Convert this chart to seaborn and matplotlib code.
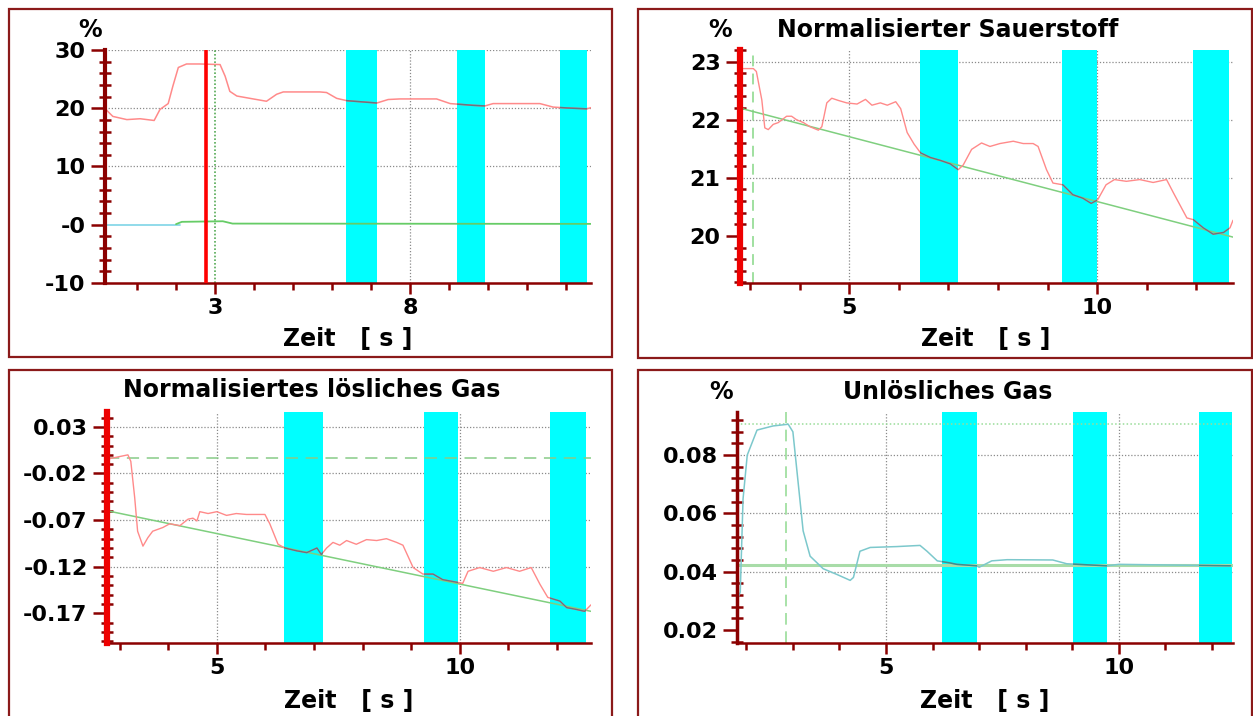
import numpy as np
import pandas as pd
import matplotlib
matplotlib.use("Agg")
import matplotlib.pyplot as plt
from matplotlib.patches import Rectangle
from matplotlib.ticker import FixedLocator, FixedFormatter, MultipleLocator
import seaborn as sns

# ---------------- data ----------------
# Panel 1 (top-left): oxygen %, time axis
p1_time_red = [0.20, 0.38, 0.74, 1.08, 1.44, 1.59, 1.80, 1.92, 2.06, 2.27, 2.61, 3.13, 3.26, 3.38,
               3.56, 3.98, 4.32, 4.58, 4.75, 5.69, 5.86, 6.12, 6.38, 7.15, 7.44, 7.74, 8.68,
               9.03, 9.62, 9.92, 10.13, 11.33, 11.67, 12.02, 12.53, 12.64]
p1_red = [19.8, 18.6, 18.05, 18.2, 17.9, 19.8, 20.8, 23.8, 27.0, 27.6, 27.6, 27.5, 25.5, 22.9,
          22.1, 21.6, 21.2, 22.4, 22.8, 22.8, 22.7, 21.7, 21.3, 20.9, 21.5, 21.6, 21.6,
          20.8, 20.5, 20.4, 20.8, 20.8, 20.2, 20.05, 19.9, 20.1]
p1_time_green = [2.00, 2.15, 3.20, 3.45, 12.64]
p1_green = [0.1, 0.5, 0.6, 0.2, 0.15]
p1_time_cyan = [0.20, 2.10]
p1_cyan = [0.0, 0.0]
p1_band_start = [6.36, 9.21, 11.85]
p1_band_end = [7.15, 9.92, 12.54]
p1_cursor = 2.77
p1_marker = 3.0
p1_yticks = [30, 20, 10, 0, -10]
p1_ylabels = ["30", "20", "10", "-0", "-10"]
p1_xticks = [3, 8]

# Panel 2 (top-right): normalised oxygen
p2_time = [2.84, 3.07, 3.13, 3.24, 3.30, 3.37, 3.47, 3.57, 3.74, 3.84, 3.94, 4.08, 4.21, 4.38,
           4.45, 4.55, 4.65, 4.79, 4.95, 5.16, 5.33, 5.46, 5.63, 5.77, 5.94, 6.04, 6.17, 6.31,
           6.44, 6.64, 6.84, 7.04, 7.20, 7.30, 7.47, 7.67, 7.84, 8.04, 8.31, 8.51, 8.71, 8.81,
           8.98, 9.11, 9.31, 9.51, 9.71, 9.88, 10.01, 10.18, 10.35, 10.59, 10.86, 11.13, 11.40,
           11.54, 11.81, 11.94, 12.14, 12.34, 12.55, 12.68, 12.74]
p2_oxygen = [22.88, 22.88, 22.83, 22.34, 21.86, 21.83, 21.92, 21.95, 22.06, 22.06, 22.00, 21.95,
             21.88, 21.82, 21.88, 22.29, 22.37, 22.33, 22.29, 22.27, 22.35, 22.25, 22.29, 22.25,
             22.31, 22.19, 21.78, 21.58, 21.43, 21.35, 21.30, 21.24, 21.14, 21.22, 21.49, 21.60,
             21.54, 21.59, 21.63, 21.59, 21.59, 21.54, 21.14, 20.91, 20.88, 20.71, 20.65, 20.56,
             20.62, 20.88, 20.97, 20.94, 20.97, 20.92, 20.97, 20.74, 20.31, 20.28, 20.14, 20.03,
             20.06, 20.14, 20.27]
p2_trend_time = [2.80, 12.74]
p2_trend = [22.20, 19.98]
p2_band_start = [6.43, 9.29, 11.94]
p2_band_end = [7.20, 10.00, 12.65]
p2_marker = 3.06
p2_yticks = [23, 22, 21, 20]
p2_ylabels = ["23", "22", "21", "20"]
p2_xticks = [5, 10]

# Panel 3 (bottom-left): normalised soluble gas
p3_time = [2.80, 3.17, 3.23, 3.31, 3.37, 3.48, 3.58, 3.68, 3.89, 4.03, 4.24, 4.41, 4.51, 4.59,
           4.65, 4.82, 5.00, 5.20, 5.40, 5.61, 5.82, 5.99, 6.09, 6.26, 6.40, 6.64, 6.85, 7.06,
           7.15, 7.26, 7.39, 7.53, 7.67, 7.87, 8.08, 8.29, 8.49, 8.70, 8.83, 9.04, 9.24, 9.45,
           9.65, 9.86, 10.06, 10.17, 10.41, 10.69, 10.96, 11.23, 11.47, 11.65, 11.81, 12.06,
           12.20, 12.40, 12.57, 12.70]
p3_gas = [-0.004, 0.000, -0.007, -0.046, -0.082, -0.098, -0.089, -0.082, -0.078, -0.074, -0.076,
          -0.069, -0.068, -0.071, -0.061, -0.063, -0.061, -0.065, -0.063, -0.064, -0.064, -0.064,
          -0.074, -0.096, -0.100, -0.103, -0.105, -0.100, -0.107, -0.100, -0.094, -0.097, -0.092,
          -0.096, -0.091, -0.092, -0.090, -0.094, -0.097, -0.121, -0.128, -0.128, -0.134, -0.136,
          -0.138, -0.125, -0.121, -0.125, -0.121, -0.125, -0.121, -0.139, -0.153, -0.157, -0.164,
          -0.166, -0.168, -0.161]
p3_trend_time = [2.74, 12.70]
p3_trend = [-0.060, -0.168]
p3_reference = -0.003
p3_band_start = [6.38, 9.26, 11.85]
p3_band_end = [7.18, 9.96, 12.59]
p3_yticks = [0.03, -0.02, -0.07, -0.12, -0.17]
p3_ylabels = ["0.03", "-0.02", "-0.07", "-0.12", "-0.17"]
p3_xticks = [5, 10]

# Panel 4 (bottom-right): insoluble gas
p4_time = [1.80, 1.87, 1.93, 2.02, 2.23, 2.57, 2.90, 3.00, 3.11, 3.22, 3.37, 3.65, 3.95, 4.23,
           4.30, 4.44, 4.66, 5.23, 5.73, 5.88, 6.10, 6.37, 6.52, 6.95, 7.00, 7.27, 7.60, 8.58,
           8.88, 9.74, 10.00, 12.40]
p4_gas = [0.030, 0.033, 0.065, 0.080, 0.0886, 0.0900, 0.0906, 0.088, 0.071, 0.054, 0.0453,
          0.041, 0.039, 0.037, 0.038, 0.047, 0.0483, 0.0486, 0.049, 0.047, 0.0437, 0.043,
          0.0425, 0.042, 0.0415, 0.0437, 0.0441, 0.044, 0.0427, 0.042, 0.0425, 0.042]
p4_level = 0.0424
p4_peak = 0.0906
p4_marker = 2.85
p4_band_start = [6.20, 9.01, 11.72]
p4_band_end = [6.95, 9.74, 12.42]
p4_yticks = [0.08, 0.06, 0.04, 0.02]
p4_ylabels = ["0.08", "0.06", "0.04", "0.02"]
p4_xticks = [5, 10]

titles = ["", "Normalisierter Sauerstoff", "Normalisiertes lösliches Gas", "Unlösliches Gas"]
xlabel = "Zeit   [ s ]"

# ---------------- style ----------------
W, H = 1253, 716
sns.set_theme(style="white")
plt.rcParams['font.family'] = ['DejaVu Sans']
plt.rcParams['font.weight'] = 'bold'
plt.rcParams['text.color'] = 'black'
plt.rcParams['xtick.labelcolor'] = 'black'
plt.rcParams['ytick.labelcolor'] = 'black'

DARKRED = '#8B0000'
FRAME = '#8B1A1A'
CYAN = '#00FFFF'
PINK = '#FF8A8A'
LGREEN = '#7FCF7F'
GRID = '#8A8A8A'
TICKSIZE = 16
TEXTSIZE = 17

fig = plt.figure(figsize=(W / 100, H / 100), dpi=100)
fig.patch.set_facecolor('white')


def add_ax(l, t, r, b):
    return fig.add_axes([l / W, 1 - b / H, (r - l) / W, (b - t) / H])


def frame(l, t, r, b):
    fig.patches.append(Rectangle((l / W, 1 - b / H), (r - l) / W, (b - t) / H,
                                 transform=fig.transFigure, fill=False,
                                 edgecolor=FRAME, lw=1.6, zorder=0))


def ftext(x, y, s, size=TEXTSIZE, ha='center'):
    fig.text(x / W, 1 - y / H, s, ha=ha, va='center', fontsize=size,
             fontweight='bold', color='black')


def style(ax, xlim, ylim, xticks, yticks, ylabels, yminor, left_color, left_lw, hgrid, vgrid):
    ax.set_facecolor('white')
    ax.set_xlim(xlim)
    ax.set_ylim(ylim)
    for s in ['top', 'right']:
        ax.spines[s].set_visible(False)
    ax.spines['left'].set_color(left_color)
    ax.spines['left'].set_linewidth(left_lw)
    ax.spines['left'].set_zorder(5)
    ax.spines['bottom'].set_color(DARKRED)
    ax.spines['bottom'].set_linewidth(1.8)
    ax.xaxis.set_major_locator(FixedLocator(xticks))
    ax.xaxis.set_major_formatter(FixedFormatter([str(v) for v in xticks]))
    ax.xaxis.set_minor_locator(MultipleLocator(1))
    ax.yaxis.set_major_locator(FixedLocator(yticks))
    ax.yaxis.set_major_formatter(FixedFormatter(ylabels))
    ax.yaxis.set_minor_locator(MultipleLocator(yminor))
    ax.tick_params(axis='y', which='major', direction='out', length=10, width=1.8,
                   color=DARKRED, labelsize=TICKSIZE, labelcolor='black', pad=4, left=True)
    ax.tick_params(axis='y', which='minor', direction='inout', length=9, width=1.8,
                   color=DARKRED, left=True)
    ax.tick_params(axis='x', which='major', direction='out', length=8, width=1.8,
                   color=DARKRED, labelsize=TICKSIZE, labelcolor='black', pad=3, bottom=True)
    ax.tick_params(axis='x', which='minor', direction='out', length=5, width=1.8,
                   color=DARKRED, bottom=True)
    for lab in ax.get_xticklabels() + ax.get_yticklabels():
        lab.set_fontweight('bold')
    for y in hgrid:
        ax.axhline(y, color=GRID, lw=0.9, ls=(0, (1, 1.5)), zorder=0.5)
    for x in vgrid:
        ax.axvline(x, color=GRID, lw=0.9, ls=(0, (1, 1.5)), zorder=0.5)
    ax.set_xlabel('')
    ax.set_ylabel('')
    ax.grid(False)


def bands(ax, starts, ends):
    spans = []
    for a, b in zip(starts, ends):
        spans.append(ax.axvspan(a, b, color=CYAN, lw=0, zorder=1))
    return spans


def series(ax, x, y, color, lw=1.1, z=3, spans=None, dark=None, ls='-'):
    sns.lineplot(x=x, y=y, ax=ax, color=color, linewidth=lw, estimator=None,
                 sort=False, legend=False, zorder=z, linestyle=ls)
    if spans is not None and dark is not None:
        for sp in spans:
            sns.lineplot(x=x, y=y, ax=ax, color=dark, linewidth=lw, estimator=None,
                         sort=False, legend=False, zorder=z + 0.1)
            ax.lines[-1].set_clip_path(sp)


# ---------------- panel 1 ----------------
frame(9, 9, 612, 357)
ax1 = add_ax(105, 50, 591, 283)
style(ax1, (0.18, 12.64), (-10, 30), p1_xticks, p1_yticks, p1_ylabels, 2,
      DARKRED, 3, [30, 20, 10], [8])
sp1 = bands(ax1, p1_band_start, p1_band_end)
series(ax1, p1_time_cyan, p1_cyan, '#88D8E8', lw=1.3)
series(ax1, p1_time_green, p1_green, '#66CC66', lw=1.3)
series(ax1, p1_time_red, p1_red, PINK, lw=1.1, spans=sp1, dark='#6A7480')
ax1.axvline(p1_marker, color='#55AA55', lw=1.2, ls=(0, (1, 1.2)), zorder=2)
ax1.axvline(p1_cursor, color='#FF0000', lw=2.6, zorder=4)
ftext(90, 30, "%")
ftext(348, 339, xlabel)

# ---------------- panel 2 ----------------
frame(638, 9, 1252, 358)
ax2 = add_ax(740, 50, 1233, 283)
style(ax2, (2.80, 12.74), (19.19, 23.2), p2_xticks, p2_yticks, p2_ylabels, 0.2,
      '#EE0000', 4.5, [23, 22, 21], [5, 10])
sp2 = bands(ax2, p2_band_start, p2_band_end)
ax2.axvline(p2_marker, color='#99DD99', lw=1.3, ls=(0, (6, 4)), zorder=2)
series(ax2, p2_trend_time, p2_trend, LGREEN, lw=1.1)
series(ax2, p2_time, p2_oxygen, PINK, lw=1.0, spans=sp2, dark='#6A7480')
ftext(732, 30, "%", ha='right')
ftext(948, 30, titles[1])
ftext(986, 339, xlabel)

# ---------------- panel 3 ----------------
frame(9, 370, 612, 730)
ax3 = add_ax(107, 412, 591, 643)
style(ax3, (2.74, 12.70), (-0.202, 0.046), p3_xticks, p3_yticks, p3_ylabels, 0.01,
      '#EE0000', 4.5, [0.03, -0.02, -0.07, -0.12], [5, 10])
sp3 = bands(ax3, p3_band_start, p3_band_end)
ax3.axhline(p3_reference, color='#88CC88', lw=1.1, ls=(0, (8, 5)), zorder=2)
series(ax3, p3_trend_time, p3_trend, LGREEN, lw=1.1)
series(ax3, p3_time, p3_gas, PINK, lw=1.0, spans=sp3, dark='#6A7480')
ftext(312, 390, titles[2])
ftext(349, 701, xlabel)

# ---------------- panel 4 ----------------
frame(638, 370, 1252, 730)
ax4 = add_ax(737, 412, 1233, 643)
style(ax4, (1.80, 12.45), (0.0155, 0.0948), p4_xticks, p4_yticks, p4_ylabels, 0.004,
      DARKRED, 2.5, [0.08, 0.06, 0.04], [5, 10])
sp4 = bands(ax4, p4_band_start, p4_band_end)
ax4.axhline(p4_peak, color='#99DD99', lw=1.1, ls=(0, (1, 1.5)), zorder=2)
ax4.axvline(p4_marker, color='#99DD99', lw=1.2, ls=(0, (7, 4)), zorder=2)
ax4.axhline(p4_level, color='#A8DCA8', lw=2.2, zorder=2.5)
series(ax4, p4_time, p4_gas, '#7CC8CC', lw=1.1, spans=sp4, dark='#3F8C8C')
ftext(721, 392, "%")
ftext(948, 392, titles[3])
ftext(985, 701, xlabel)

fig.savefig("out.png", dpi=100, facecolor='white')
